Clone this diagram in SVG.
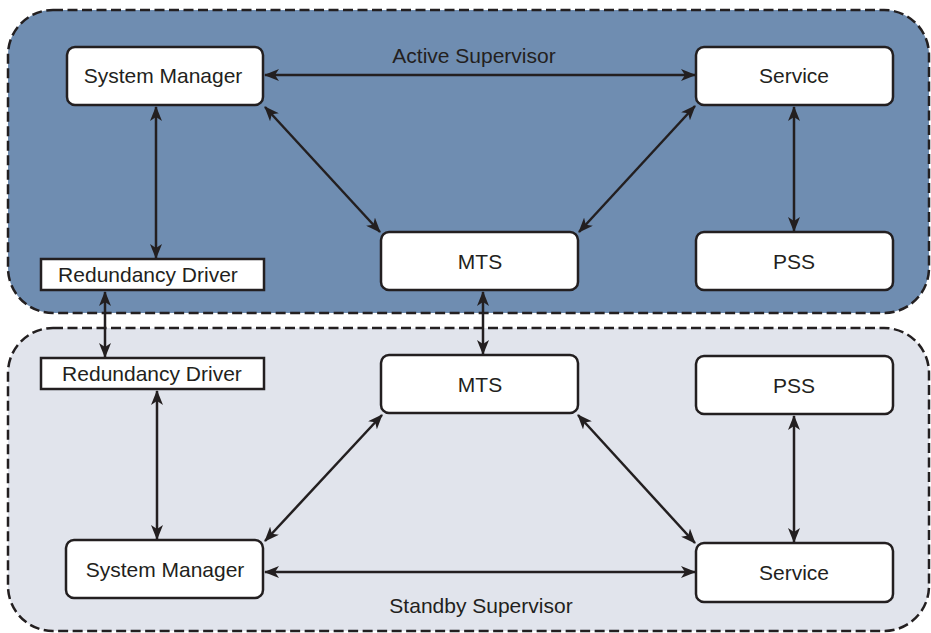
<svg xmlns="http://www.w3.org/2000/svg" width="931" height="633" viewBox="0 0 931 633">
<defs>
<marker id="ah" viewBox="0 0 15 12" markerWidth="15" markerHeight="12" refX="14" refY="6" orient="auto-start-reverse" markerUnits="userSpaceOnUse">
<path d="M0,0 L15,6 L0,12 L4,6 Z" fill="#231f20"/>
</marker>
<style>
.zone{stroke:#231f20;stroke-width:2.5;stroke-dasharray:10 4.5}
.node{fill:#ffffff;stroke:#231f20;stroke-width:2.5}
.lbl{font-family:"Liberation Sans",Arial,Helvetica,sans-serif;font-size:21px;fill:#231f20;text-anchor:middle}
.conn{stroke:#231f20;stroke-width:2.5;fill:none;marker-start:url(#ah);marker-end:url(#ah)}
</style>
</defs>
<rect width="931" height="633" fill="#ffffff"/>
<g id="active-supervisor">
<rect class="zone" x="8" y="10" width="921" height="303" rx="45" fill="#6f8db1"/>
<text class="lbl" x="474" y="63">Active Supervisor</text>
</g>
<g id="standby-supervisor">
<rect class="zone" x="8" y="328" width="921" height="303" rx="45" fill="#e1e4ec"/>
<text class="lbl" x="481" y="613">Standby Supervisor</text>
</g>
<g id="connectors">
<line class="conn" x1="265" y1="75" x2="695" y2="75"/>
<line class="conn" x1="156" y1="107" x2="156" y2="258"/>
<line class="conn" x1="794" y1="107" x2="794" y2="231"/>
<line class="conn" x1="265" y1="107" x2="380" y2="232"/>
<line class="conn" x1="695" y1="106" x2="579" y2="232"/>
<line class="conn" x1="483" y1="292" x2="483" y2="354"/>
<line class="conn" x1="105" y1="292" x2="105" y2="357"/>
<line class="conn" x1="157" y1="391" x2="157" y2="539"/>
<line class="conn" x1="794" y1="416" x2="794" y2="542"/>
<line class="conn" x1="382" y1="415" x2="265" y2="541"/>
<line class="conn" x1="578" y1="415" x2="695" y2="543"/>
<line class="conn" x1="695" y1="572" x2="265" y2="572"/>
</g>
<g id="sm-top"><rect class="node" x="67" y="47" width="196" height="58" rx="8"/><text class="lbl" x="163" y="83">System Manager</text></g>
<g id="service-top"><rect class="node" x="696" y="47" width="197" height="58" rx="8"/><text class="lbl" x="794" y="83">Service</text></g>
<g id="rd-top"><rect class="node" x="41" y="259" width="223" height="31"/><text class="lbl" x="148" y="282">Redundancy Driver</text></g>
<g id="mts-top"><rect class="node" x="381" y="232" width="197" height="58" rx="8"/><text class="lbl" x="480" y="269">MTS</text></g>
<g id="pss-top"><rect class="node" x="696" y="232" width="197" height="58" rx="8"/><text class="lbl" x="794" y="269">PSS</text></g>
<g id="rd-bottom"><rect class="node" x="41" y="358" width="223" height="31"/><text class="lbl" x="152" y="381">Redundancy Driver</text></g>
<g id="mts-bottom"><rect class="node" x="381" y="355" width="197" height="58" rx="8"/><text class="lbl" x="480" y="392">MTS</text></g>
<g id="pss-bottom"><rect class="node" x="696" y="356" width="197" height="58" rx="8"/><text class="lbl" x="794" y="393">PSS</text></g>
<g id="sm-bottom"><rect class="node" x="66" y="540" width="197" height="58" rx="8"/><text class="lbl" x="165" y="577">System Manager</text></g>
<g id="service-bottom"><rect class="node" x="696" y="543" width="197" height="59" rx="8"/><text class="lbl" x="794" y="580">Service</text></g>
</svg>
